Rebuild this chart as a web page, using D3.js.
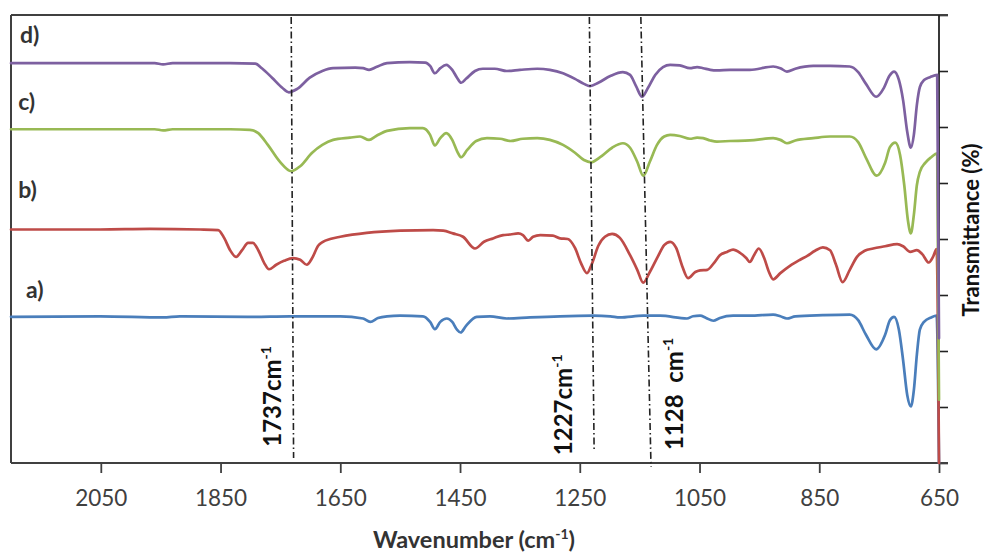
<!DOCTYPE html>
<html><head><meta charset="utf-8">
<script src="https://cdn.jsdelivr.net/npm/d3@7"></script>
<style>
html,body{margin:0;padding:0;background:#fff;}
svg{display:block;font-family:Lato,"Open Sans",sans-serif;}
</style>
</head><body>
<svg id="chart" width="984" height="556"></svg>
<script>
// ---------- data (wavenumber cm-1, transmittance %, offset spectra) ----------
const xTicks = [2050, 1850, 1650, 1450, 1250, 1050, 850, 650];
const yTicks = [0, 10, 20, 30, 40, 50, 60, 70, 80];

const seriesA = [[2200,26.1],[2051,26.2],[1946,26.0],[1918,26.2],[1801,26.1],[1734,26.2],[1650,26.2],[1612,25.8],[1600,25.2],[1587,25.9],[1572,26.2],[1550,26.3],[1512,26.2],[1500,25.2],[1492,23.9],[1483,25.2],[1472,25.8],[1463,25.2],[1455,23.8],[1449,23.3],[1440,24.5],[1422,26.1],[1400,26.2],[1372,25.8],[1333,26.0],[1283,26.2],[1228,26.3],[1199,26.2],[1183,26.0],[1144,26.3],[1116,26.3],[1071,25.8],[1061,26.2],[1049,26.3],[1039,25.9],[1027,25.4],[1016,25.9],[994,26.3],[966,26.3],[927,26.5],[915,26.2],[904,25.8],[890,26.2],[844,26.4],[799,26.5],[785,25.5],[772,22.9],[755,20.3],[740,22.9],[732,25.5],[725,26.1],[717,23.8],[710,18.4],[703,12.1],[697,10.1],[692,13.0],[687,19.3],[682,23.8],[675,25.2],[663,26.0],[654,26.3],[650,0]];

const seriesB = [[2200,41.7],[2051,41.7],[1968,41.8],[1884,41.7],[1854,41.6],[1844,40.2],[1834,38.0],[1824,36.8],[1814,38.0],[1804,39.3],[1796,39.3],[1787,38.0],[1777,35.7],[1769,34.6],[1757,35.4],[1744,36.1],[1729,36.6],[1717,36.3],[1706,35.4],[1697,36.6],[1687,38.8],[1679,39.5],[1667,40.0],[1650,40.4],[1606,41.1],[1550,41.5],[1495,41.6],[1478,41.5],[1462,41.0],[1445,40.4],[1425,38.3],[1410,39.5],[1395,40.1],[1378,40.7],[1366,40.8],[1353,41.0],[1345,40.7],[1336,39.7],[1328,40.4],[1316,40.7],[1295,40.6],[1283,40.1],[1270,40.0],[1258,38.4],[1248,35.7],[1238,33.9],[1230,35.5],[1219,38.8],[1208,40.4],[1196,40.9],[1183,40.2],[1166,37.1],[1154,34.5],[1144,32.2],[1133,34.1],[1119,37.0],[1109,38.9],[1099,39.5],[1089,38.4],[1079,35.2],[1069,33.0],[1057,34.1],[1049,34.4],[1037,34.5],[1026,35.7],[1016,37.1],[1004,37.7],[994,38.1],[982,37.5],[972,36.6],[966,35.9],[959,37.1],[951,38.3],[942,36.6],[934,34.1],[927,32.8],[915,33.9],[899,35.2],[882,36.3],[870,37.0],[857,37.9],[844,38.5],[832,38.0],[822,35.4],[811,32.3],[799,34.5],[787,36.8],[774,37.9],[760,38.3],[740,38.7],[720,39.1],[710,38.7],[698,37.7],[687,38.0],[678,37.3],[667,35.8],[660,36.8],[654,38.2],[650,0]];

const seriesC = [[2200,59.6],[2051,59.6],[1960,59.6],[1946,59.4],[1930,59.6],[1834,59.6],[1801,59.5],[1787,58.9],[1771,56.8],[1751,53.8],[1732,52.1],[1717,53.0],[1697,55.4],[1680,56.8],[1662,57.7],[1634,58.1],[1617,58.3],[1602,57.7],[1590,58.4],[1572,59.3],[1534,59.8],[1512,59.8],[1500,58.6],[1492,56.7],[1483,58.0],[1473,58.9],[1463,57.7],[1455,55.7],[1448,54.6],[1438,55.9],[1423,57.5],[1405,58.0],[1383,57.9],[1366,57.5],[1345,57.9],[1321,58.0],[1300,57.7],[1278,56.8],[1258,55.4],[1243,54.1],[1231,53.7],[1216,54.6],[1196,56.3],[1178,57.1],[1166,56.3],[1154,53.8],[1144,51.3],[1133,53.8],[1121,56.8],[1109,58.3],[1099,58.6],[1083,58.4],[1066,57.9],[1054,58.1],[1044,58.0],[1032,57.6],[1021,57.4],[999,57.5],[966,57.6],[927,58.0],[915,57.7],[904,57.1],[890,57.6],[860,58.0],[832,58.3],[799,58.3],[785,57.3],[772,54.5],[754,51.3],[740,53.6],[732,56.4],[723,57.2],[715,55.0],[708,49.6],[702,43.4],[697,41.0],[692,44.3],[687,49.6],[682,52.0],[673,53.6],[663,54.6],[653,55.3],[650,11.3]];

const seriesD = [[2200,71.4],[2051,71.4],[1960,71.4],[1946,71.2],[1930,71.4],[1834,71.4],[1792,71.3],[1781,70.5],[1764,68.8],[1747,67.0],[1736,66.2],[1722,66.8],[1701,68.8],[1680,70.0],[1662,70.5],[1625,70.6],[1612,70.5],[1602,70.2],[1590,70.7],[1572,71.4],[1534,71.6],[1508,71.5],[1500,70.9],[1492,69.6],[1483,70.5],[1473,71.1],[1463,70.2],[1455,68.8],[1448,67.9],[1440,68.6],[1425,70.0],[1412,70.4],[1392,70.4],[1372,70.0],[1350,70.2],[1321,70.4],[1300,70.2],[1278,69.6],[1258,68.6],[1243,67.7],[1233,67.3],[1219,67.9],[1199,69.1],[1178,69.8],[1166,69.3],[1156,67.3],[1146,65.4],[1136,67.0],[1124,69.3],[1111,70.7],[1099,71.1],[1083,71.0],[1066,70.5],[1054,70.7],[1044,70.5],[1032,70.2],[1021,70.1],[999,70.2],[966,70.2],[927,70.8],[915,70.5],[904,69.9],[890,70.4],[860,70.9],[832,70.9],[799,70.8],[785,69.8],[772,67.7],[755,65.4],[742,67.0],[733,69.1],[725,69.9],[717,68.4],[710,64.8],[703,59.1],[697,56.3],[692,58.6],[687,63.9],[682,67.1],[675,68.4],[665,68.9],[653,69.3],[650,22.3]];

const seriesLabels = ["a)", "b)", "c)", "d)"];
const seriesColors = ["#4A7EBB", "#BE4B48", "#98B954", "#7D60A0"];
// label anchor (wavenumber, transmittance) for each series tag
const labelAnchors = [[2175, 29.5], [2188, 47.3], [2188, 63.0], [2185, 75.0]];

// band markers: wavenumber at top and bottom of the dash-dot guide, bottom level, label
const markers = [
  {text: "1737cm", top: 1732, bottom: 1728, end: 0.9, labelWn: 1749, labelT: 2.9},
  {text: "1227cm", top: 1234, bottom: 1226, end: 2.0, labelWn: 1263, labelT: 1.4},
  {text: "1128\u00A0\u00A0cm", top: 1148, bottom: 1131, end: -0.7, labelWn: 1077, labelT: 2.3}
];

// ---------- chart ----------
const svg = d3.select("#chart");
const L = 11, R = 939, T = 15, B = 463;
const x = d3.scaleLinear().domain([2200, 650]).range([L, R]);
const y = d3.scaleLinear().domain([0, 80]).range([B, T]);
const frame = "#404040";

// right axis ticks
const yAxis = d3.axisRight(y).tickValues(yTicks).tickSize(9).tickFormat("");
const gy = svg.append("g").attr("transform", `translate(${R},0)`).call(yAxis);
gy.select(".domain").remove();
gy.selectAll(".tick line").attr("stroke", "#222").attr("stroke-width", 1.6);

// bottom axis
const xAxis = d3.axisBottom(x).tickValues(xTicks).tickSize(10).tickPadding(17).tickFormat(d3.format("d"));
const gx = svg.append("g").attr("transform", `translate(0,${B})`).call(xAxis);
gx.select(".domain").remove();
gx.selectAll(".tick line").attr("stroke", frame).attr("stroke-width", 1.8);
gx.selectAll(".tick text").attr("fill", "#404040").style("font-size", "22.5px")
  .style("font-family", "Lato, 'Open Sans', sans-serif");

// frame
svg.append("line").attr("x1", L).attr("x2", L).attr("y1", T).attr("y2", B).attr("stroke", frame).attr("stroke-width", 2);
svg.append("line").attr("x1", L).attr("x2", R + 9).attr("y1", T).attr("y2", T).attr("stroke", frame).attr("stroke-width", 2);
svg.append("line").attr("x1", L).attr("x2", R + 9).attr("y1", B).attr("y2", B).attr("stroke", frame).attr("stroke-width", 2);
svg.append("line").attr("x1", R).attr("x2", R).attr("y1", T).attr("y2", B).attr("stroke", "#222").attr("stroke-width", 1.8);

// spectra
const line = d3.line().x(d => x(d[0])).y(d => y(d[1])).curve(d3.curveMonotoneX);
const allSeries = [seriesA, seriesB, seriesC, seriesD];
allSeries.forEach((s, i) => {
  svg.append("path").attr("d", line(s)).attr("fill", "none")
    .attr("stroke", seriesColors[i]).attr("stroke-width", 2.7)
    .attr("stroke-linejoin", "round").attr("stroke-linecap", "round");
});

// series tags
seriesLabels.forEach((t, i) => {
  svg.append("text").attr("x", x(labelAnchors[i][0])).attr("y", y(labelAnchors[i][1]))
    .attr("fill", "#333").style("font-size", "23px").style("font-weight", "bold").text(t);
});

// dash-dot guides + labels
markers.forEach(m => {
  svg.append("line").attr("x1", x(m.top)).attr("y1", y(80) + 2).attr("x2", x(m.bottom)).attr("y2", y(m.end))
    .attr("stroke", "#222").attr("stroke-width", 1.6).attr("stroke-dasharray", "7,3,1.5,3");
  const tx = svg.append("text")
    .attr("transform", `translate(${x(m.labelWn)},${y(m.labelT)}) rotate(-90)`)
    .attr("fill", "#111").style("font-size", "24px").style("font-weight", "bold");
  tx.append("tspan").text(m.text);
  tx.append("tspan").attr("dy", -10).style("font-size", "14px").text("-1");
});

// axis titles
const xt = svg.append("text").attr("x", 474).attr("y", 548).attr("text-anchor", "middle")
  .attr("fill", "#333").style("font-size", "23.5px").style("font-weight", "bold");
xt.append("tspan").text("Wavenumber (cm");
xt.append("tspan").attr("dy", -9).style("font-size", "14px").text("-1");
xt.append("tspan").attr("dy", 9).text(")");

svg.append("text").attr("transform", "translate(979,230) rotate(-90)").attr("text-anchor", "middle")
  .attr("fill", "#111").style("font-size", "22px").style("font-weight", "bold").text("Transmittance (%)");
</script>
</body></html>
